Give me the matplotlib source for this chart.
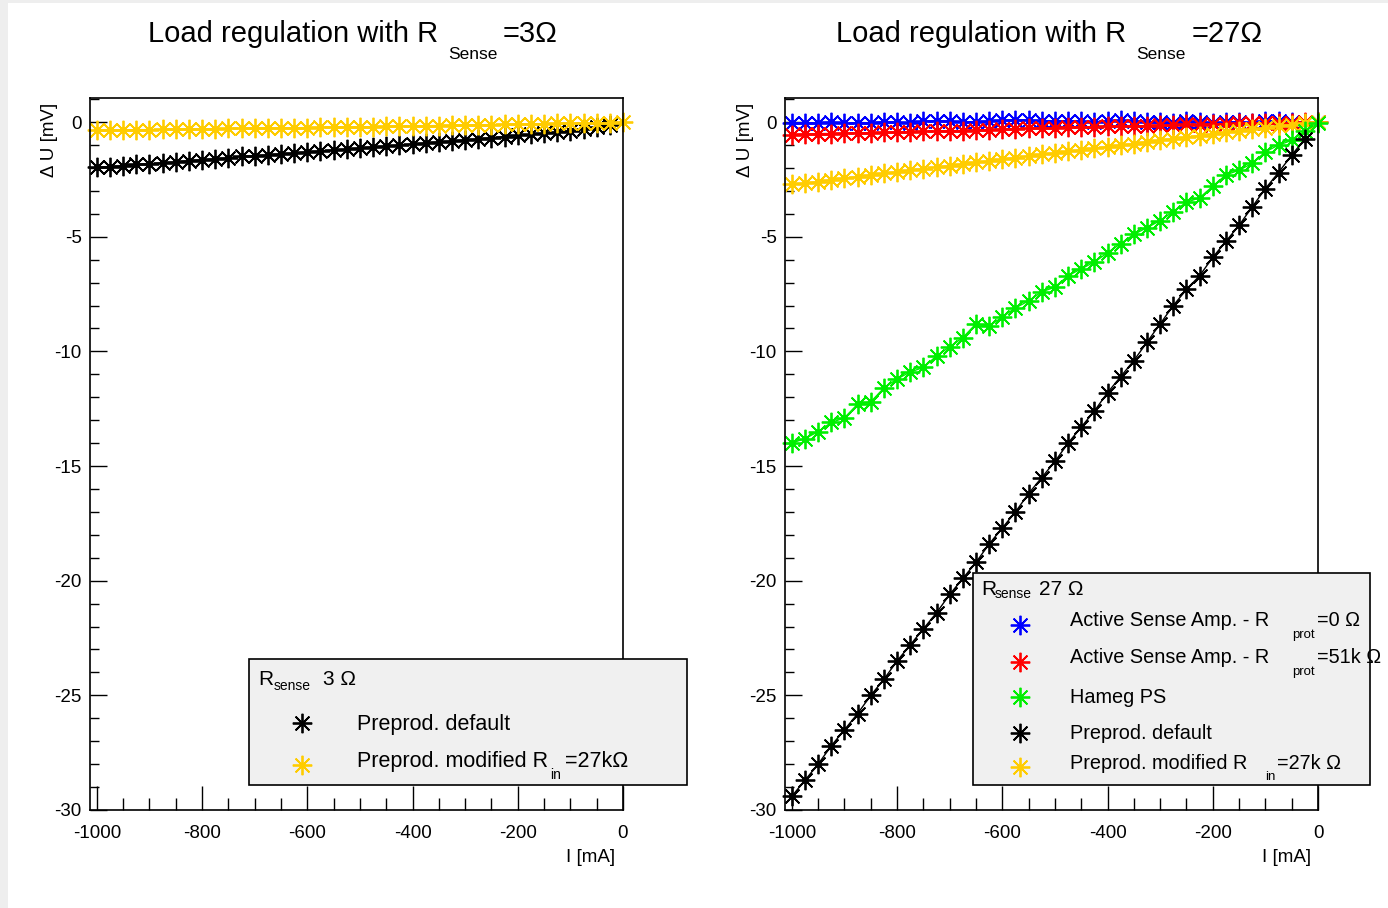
import matplotlib
matplotlib.use("Agg")
import matplotlib.pyplot as plt
from matplotlib.ticker import MultipleLocator
from matplotlib.patches import Rectangle
from matplotlib.lines import Line2D

plt.rcParams['font.family'] = ['Liberation Sans', 'DejaVu Sans']
plt.rcParams['axes.unicode_minus'] = False

# measured currents [mA]
current = [-1000, -975, -950, -925, -900, -875, -850, -825, -800, -775,
           -750, -725, -700, -675, -650, -625, -600, -575, -550, -525,
           -500, -475, -450, -425, -400, -375, -350, -325, -300, -275,
           -250, -225, -200, -175, -150, -125, -100, -75, -50, -25, 0]
current_pre = current[:-1]   # preprod. default stops one step before 0

# R_sense = 3 Ohm
du3_default = [-1.98, -1.94, -1.90, -1.85, -1.82, -1.77, -1.74, -1.68, -1.64, -1.60,
               -1.56, -1.50, -1.47, -1.43, -1.38, -1.35, -1.30, -1.26, -1.22, -1.18,
               -1.13, -1.08, -1.05, -1.00, -0.96, -0.91, -0.87, -0.82, -0.78, -0.73,
               -0.68, -0.63, -0.58, -0.54, -0.49, -0.43, -0.37, -0.30, -0.22, -0.14]
du3_modified = [-0.36, -0.35, -0.35, -0.33, -0.33, -0.32, -0.31, -0.30, -0.31, -0.29,
                -0.28, -0.28, -0.27, -0.26, -0.25, -0.25, -0.24, -0.23, -0.22, -0.22,
                -0.21, -0.20, -0.19, -0.18, -0.18, -0.16, -0.15, -0.14, -0.13, -0.12,
                -0.11, -0.10, -0.09, -0.08, -0.07, -0.06, -0.05, -0.04, -0.03, -0.02, 0.0]

# R_sense = 27 Ohm
du27_active0 = [-0.05, -0.03, -0.04, 0.00, -0.06, -0.02, -0.03, 0.02, -0.01, -0.04,
                0.05, 0.06, 0.04, 0.00, 0.02, 0.05, 0.08, 0.10, 0.09, 0.05,
                0.04, 0.06, 0.03, 0.00, 0.05, 0.07, 0.04, 0.02, 0.00, -0.02,
                0.03, 0.01, -0.03, -0.01, 0.02, -0.04, 0.03, 0.05, 0.00, -0.02, 0.0]
du27_active51k = [-0.55, -0.52, -0.50, -0.50, -0.48, -0.47, -0.46, -0.45, -0.45, -0.42,
                  -0.40, -0.40, -0.38, -0.37, -0.34, -0.33, -0.30, -0.30, -0.27, -0.25,
                  -0.26, -0.22, -0.22, -0.20, -0.18, -0.19, -0.17, -0.15, -0.13, -0.14,
                  -0.10, -0.12, -0.08, -0.07, -0.05, -0.06, -0.03, -0.04, -0.02, -0.01, 0.0]
du27_hameg = [-14.0, -13.8, -13.5, -13.1, -12.9, -12.3, -12.2, -11.6, -11.2, -10.9,
              -10.7, -10.2, -9.8, -9.4, -8.8, -8.9, -8.5, -8.1, -7.8, -7.4,
              -7.2, -6.7, -6.4, -6.1, -5.7, -5.3, -4.9, -4.6, -4.3, -3.9,
              -3.5, -3.3, -2.8, -2.3, -2.1, -1.8, -1.3, -1.0, -0.8, -0.4, -0.05]
du27_default = [-29.4, -28.7, -28.0, -27.2, -26.5, -25.8, -25.0, -24.3, -23.5, -22.8,
                -22.1, -21.4, -20.6, -19.9, -19.2, -18.4, -17.7, -17.0, -16.2, -15.5,
                -14.8, -14.0, -13.3, -12.6, -11.8, -11.1, -10.4, -9.6, -8.8, -8.0,
                -7.3, -6.7, -5.9, -5.2, -4.5, -3.7, -2.9, -2.2, -1.44, -0.74]
du27_modified = [-2.72, -2.66, -2.60, -2.52, -2.44, -2.38, -2.30, -2.24, -2.17, -2.09,
                 -2.03, -1.96, -1.90, -1.82, -1.76, -1.69, -1.62, -1.55, -1.48, -1.40,
                 -1.35, -1.28, -1.21, -1.14, -1.07, -1.00, -0.94, -0.86, -0.79, -0.72,
                 -0.65, -0.59, -0.52, -0.45, -0.38, -0.31, -0.24, -0.17, -0.11, -0.05, 0.0]

BLACK, YELLOW, BLUE, RED, GREEN = '#000000', '#ffcc00', '#0000ff', '#ff0000', '#00ee00'
STAR = (8, 2, 0)

W, H = 1388, 908
fig = plt.figure(figsize=(W / 100, H / 100), dpi=100, facecolor='#eeeeee')
fig.add_artist(Rectangle((8 / W, 0), 1, 1 - 3 / H, transform=fig.transFigure,
                         facecolor='white', edgecolor='none', zorder=-10))


def fx(x):
    return x / W


def fy(y):
    return 1 - y / H


def series(ax, x, y, color):
    ax.plot(x, y, color=color, lw=1.0, marker=STAR, ms=14, mew=1.3, clip_on=False)
    ax.plot(x, y, 'o', color=color, ms=3.8, clip_on=False)


def setup(ax):
    ax.set_xlim(-1013, 0)
    ax.set_ylim(-30, 1.05)
    ax.xaxis.set_major_locator(MultipleLocator(200))
    ax.xaxis.set_minor_locator(MultipleLocator(50))
    ax.yaxis.set_major_locator(MultipleLocator(5))
    ax.yaxis.set_minor_locator(MultipleLocator(1))
    ax.tick_params(axis='both', which='both', direction='in', top=False, right=False,
                   labelsize=13.5, width=1.0)
    ax.tick_params(axis='x', which='major', length=17, pad=11)
    ax.tick_params(axis='x', which='minor', length=8.5)
    ax.tick_params(axis='y', which='major', length=12, pad=6)
    ax.tick_params(axis='y', which='minor', length=6.5)
    for s in ax.spines.values():
        s.set_linewidth(1.2)


def sub_text(y, parts):
    # parts: list of (x_px, dy_px, text, size), baseline at y + dy (pixels from top)
    for px, dy, t, sz in parts:
        fig.text(fx(px), fy(y + dy), t, fontsize=sz, va='baseline', ha='left', zorder=5)


ax1 = fig.add_axes([fx(90), fy(810), (623 - 90) / W, (810 - 98) / H])
ax2 = fig.add_axes([fx(785), fy(810), (1318 - 785) / W, (810 - 98) / H])

setup(ax1)
setup(ax2)

series(ax1, current_pre, du3_default, BLACK)
series(ax1, current, du3_modified, YELLOW)

series(ax2, current, du27_active0, BLUE)
series(ax2, current, du27_active51k, RED)
series(ax2, current, du27_modified, YELLOW)
series(ax2, current, du27_hameg, GREEN)
series(ax2, current_pre, du27_default, BLACK)

# axis titles
for left, right in [(50, 615), (745, 1311)]:
    fig.text(fx(left), fy(103), 'Δ U [mV]', rotation=90, ha='center', va='top', fontsize=13.5)
    fig.text(fx(right), fy(858), 'I [mA]', ha='right', va='center', fontsize=13.5)

# titles
sub_text(42, [(148, 0, 'Load regulation with R', 21), (448, 17, 'Sense', 12.5),
              (503, 0, '=3Ω', 21)])
sub_text(42, [(836, 0, 'Load regulation with R', 21), (1136, 17, 'Sense', 12.5),
              (1192, 0, '=27Ω', 21)])


def legend_box(x0, y0, x1, y1):
    fig.add_artist(Rectangle((fx(x0), fy(y1)), (x1 - x0) / W, (y1 - y0) / H,
                             transform=fig.transFigure, facecolor='#f0f0f0',
                             edgecolor='black', lw=1.2, zorder=3))


def legend_marker(x, y, color):
    fig.add_artist(Line2D([fx(x)], [fy(y)], marker=STAR, ms=14, mew=1.3, color=color,
                          linestyle='none', transform=fig.transFigure, zorder=5))


# left legend
legend_box(249, 659, 687, 785)
sub_text(685, [(258, 0, 'R', 15), (274, 5, 'sense', 10), (323, 0, '3 Ω', 15)])
legend_marker(302, 723, BLACK)
sub_text(730, [(357, 0, 'Preprod. default', 15.5)])
legend_marker(302, 765, YELLOW)
sub_text(767, [(357, 0, 'Preprod. modified R', 15.5), (550, 12, 'in', 10),
               (565, 0, '=27kΩ', 15.5)])

# right legend
legend_box(973, 573, 1370, 785)
sub_text(595, [(981, 0, 'R', 15), (995, 3, 'sense', 10), (1039, 0, '27 Ω', 15)])
legend_marker(1020, 625, BLUE)
sub_text(626, [(1070, 0, 'Active Sense Amp. - R', 14.3), (1292, 12, 'prot', 9.5),
               (1317, 0, '=0 Ω', 14.3)])
legend_marker(1020, 662, RED)
sub_text(663, [(1070, 0, 'Active Sense Amp. - R', 14.3), (1292, 12, 'prot', 9.5),
               (1317, 0, '=51k Ω', 14.3)])
legend_marker(1020, 697, GREEN)
sub_text(703, [(1070, 0, 'Hameg PS', 14.3)])
legend_marker(1020, 733, BLACK)
sub_text(739, [(1070, 0, 'Preprod. default', 14.3)])
legend_marker(1020, 767, YELLOW)
sub_text(769, [(1070, 0, 'Preprod. modified R', 14.3), (1265, 11, 'in', 9.5),
               (1277, 0, '=27k Ω', 14.3)])

fig.savefig('out.png', dpi=100, facecolor=fig.get_facecolor())
